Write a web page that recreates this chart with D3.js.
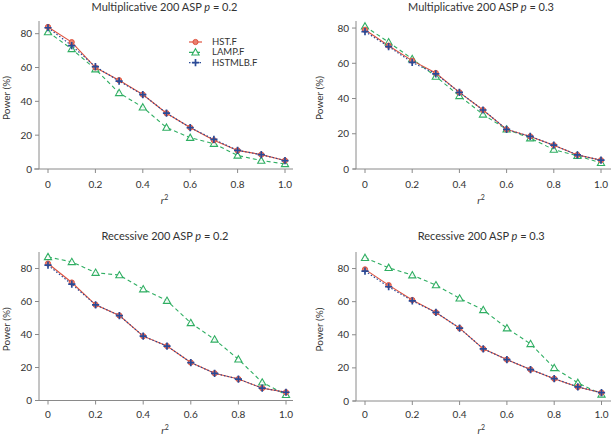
<!DOCTYPE html>
<html><head><meta charset="utf-8">
<script src="https://cdn.jsdelivr.net/npm/d3@7"></script>
<style>
body{margin:0;background:#fff;}
svg{display:block;}
text{font-family:"Lato","Open Sans",sans-serif;fill:#333;}
</style></head>
<body>
<svg id="chart" width="611" height="435"></svg>
<script>
const r2Values = [0, 0.1, 0.2, 0.3, 0.4, 0.5, 0.6, 0.7, 0.8, 0.9, 1.0];
const xTicks = [0, 0.2, 0.4, 0.6, 0.8, 1.0];
const yTicks = [0, 20, 40, 60, 80];
const seriesNames = ["HST.F", "LAMP.F", "HSTMLB.F"];

const panelModels = ["Multiplicative", "Multiplicative", "Recessive", "Recessive"];
const panelP = ["0.2", "0.3", "0.2", "0.3"];
const panelYMax = [87.5, 84, 90, 90];

const multP02_HST    = [84, 75, 60, 52.5, 44, 33, 24.5, 17, 11, 8.5, 5];
const multP02_LAMP   = [81, 71, 59, 45, 36.5, 24.5, 18.5, 15, 8, 5, 3];
const multP02_HSTMLB = [83.5, 73, 60.5, 52, 44, 33, 24.5, 17.5, 11, 8.5, 5];

const multP03_HST    = [79, 70, 61.5, 54.5, 43.5, 33.5, 22.5, 18.5, 13.5, 8, 5];
const multP03_LAMP   = [81, 72, 62.5, 52.5, 41.5, 31, 22.5, 17.5, 11, 7.5, 3.5];
const multP03_HSTMLB = [78, 69.5, 60.5, 54, 43.5, 33.5, 22.5, 18.5, 13.5, 8, 5];

const recP02_HST    = [83, 71.5, 58, 51.5, 39, 33, 23, 16.5, 13, 7.5, 5];
const recP02_LAMP   = [87, 84, 77.5, 76, 67.5, 60.5, 47, 37, 25, 11, 3.5];
const recP02_HSTMLB = [82, 70.5, 58, 51.5, 39, 33, 23, 16.5, 13, 7.5, 5];

const recP03_HST    = [79.5, 70, 61, 53.5, 44, 31.5, 25, 19, 13.5, 8.5, 5];
const recP03_LAMP   = [86.5, 80.5, 76, 70, 62, 55, 44, 34.5, 20, 11, 4];
const recP03_HSTMLB = [78.5, 69, 60.5, 53.5, 44, 31.5, 25, 19, 13.5, 8.5, 5];

const panelData = [
  [multP02_HST, multP02_LAMP, multP02_HSTMLB],
  [multP03_HST, multP03_LAMP, multP03_HSTMLB],
  [recP02_HST, recP02_LAMP, recP02_HSTMLB],
  [recP03_HST, recP03_LAMP, recP03_HSTMLB]
];

const colors = {"HST.F": "#e0533f", "LAMP.F": "#2fae62", "HSTMLB.F": "#2a4a96"};
const dashes = {"HST.F": null, "LAMP.F": "4,3", "HSTMLB.F": "1.5,2"};

const svg = d3.select("#chart");

const layouts = [
  {x0: 48, x1: 285, yBottom: 169, yTop: 21, axisX: 39, xAxisL: 34, xAxisR: 293, titleY: 11, tickLabY: 188, xLabY: 204, yLabX: 10},
  {x0: 365, x1: 601, yBottom: 169, yTop: 21, axisX: 356, xAxisL: 353, xAxisR: 611, titleY: 11, tickLabY: 188, xLabY: 204, yLabX: 323},
  {x0: 48, x1: 286, yBottom: 400.5, yTop: 252, axisX: 39, xAxisL: 39, xAxisR: 293, titleY: 240, tickLabY: 418, xLabY: 434, yLabX: 10},
  {x0: 365, x1: 601.5, yBottom: 401, yTop: 252, axisX: 356, xAxisL: 353, xAxisR: 611, titleY: 240, tickLabY: 418, xLabY: 434, yLabX: 323}
];

function marker(g, name, cx, cy) {
  const c = colors[name];
  if (name === "HST.F") {
    g.append("circle").attr("cx", cx).attr("cy", cy).attr("r", 2.6)
      .attr("fill", "#e8806f").attr("stroke", c).attr("stroke-width", 1);
  } else if (name === "LAMP.F") {
    const s = 3.6;
    g.append("path")
      .attr("d", `M${cx},${cy - s} L${cx + s},${cy + s * 0.75} L${cx - s},${cy + s * 0.75} Z`)
      .attr("fill", "#fff").attr("fill-opacity", 0.85).attr("stroke", c).attr("stroke-width", 1.1);
  } else {
    const s = 3.6;
    g.append("path")
      .attr("d", `M${cx - s},${cy} H${cx + s} M${cx},${cy - s} V${cy + s}`)
      .attr("stroke", c).attr("stroke-width", 1.7).attr("fill", "none");
  }
}

layouts.forEach((L, i) => {
  const g = svg.append("g");
  const x = d3.scaleLinear().domain([0, 1]).range([L.x0, L.x1]);
  const y = d3.scaleLinear().domain([0, panelYMax[i]]).range([L.yBottom, L.yTop]);

  g.append("line").attr("x1", L.axisX).attr("x2", L.axisX).attr("y1", L.yTop).attr("y2", L.yBottom)
    .attr("stroke", "#8a8a8a").attr("stroke-width", 1);
  g.append("line").attr("x1", L.xAxisL).attr("x2", L.xAxisR).attr("y1", L.yBottom).attr("y2", L.yBottom)
    .attr("stroke", "#8a8a8a").attr("stroke-width", 1);

  yTicks.forEach(t => {
    g.append("line").attr("x1", L.axisX - 4).attr("x2", L.axisX).attr("y1", y(t)).attr("y2", y(t))
      .attr("stroke", "#8a8a8a");
    g.append("text").attr("x", L.axisX - 7).attr("y", y(t)).attr("dy", "0.35em")
      .attr("text-anchor", "end").attr("font-size", 10).text(t);
  });
  xTicks.forEach(t => {
    g.append("line").attr("x1", x(t)).attr("x2", x(t)).attr("y1", L.yBottom).attr("y2", L.yBottom + 4)
      .attr("stroke", "#8a8a8a");
    g.append("text").attr("x", x(t)).attr("y", L.tickLabY)
      .attr("text-anchor", "middle").attr("font-size", 10).text(t === 0 ? "0" : d3.format(".1f")(t));
  });

  const cx = (L.x0 + L.x1) / 2 - 2;
  const title = g.append("text").attr("x", cx).attr("y", L.titleY).attr("text-anchor", "middle").attr("font-size", 11);
  title.append("tspan").text(panelModels[i] + " 200 ASP ");
  title.append("tspan").attr("font-style", "italic").text("p");
  title.append("tspan").text(" = " + panelP[i]);

  const xl = g.append("text").attr("x", cx).attr("y", L.xLabY).attr("text-anchor", "middle").attr("font-size", 10);
  xl.append("tspan").attr("font-style", "italic").text("r");
  xl.append("tspan").attr("font-size", 7).attr("dy", -4).text("2");

  g.append("text").attr("transform", `translate(${L.yLabX},${(L.yTop + L.yBottom) / 2 + 3}) rotate(-90)`)
    .attr("text-anchor", "middle").attr("font-size", 10).text("Power (%)");

  const order = [1, 0, 2];
  order.forEach(si => {
    const name = seriesNames[si];
    const vals = panelData[i][si];
    const line = d3.line().x((d, k) => x(r2Values[k])).y(d => y(d));
    g.append("path").datum(vals).attr("d", line).attr("fill", "none")
      .attr("stroke", colors[name]).attr("stroke-width", name === "HSTMLB.F" ? 1.2 : 1.1)
      .attr("stroke-dasharray", dashes[name]);
  });
  order.forEach(si => {
    const name = seriesNames[si];
    panelData[i][si].forEach((v, k) => marker(g, name, x(r2Values[k]), y(v)));
  });

  if (i === 0) {
    const lg = g.append("g");
    seriesNames.forEach((name, k) => {
      const ly = 42 + k * 10.3;
      lg.append("line").attr("x1", 189).attr("x2", 202).attr("y1", ly).attr("y2", ly)
        .attr("stroke", colors[name]).attr("stroke-width", 1.2).attr("stroke-dasharray", dashes[name]);
      marker(lg, name, 195.5, ly);
      lg.append("text").attr("x", 212).attr("y", ly).attr("dy", "0.33em").attr("font-size", 9.5).text(name);
    });
  }
});
</script>
</body></html>
